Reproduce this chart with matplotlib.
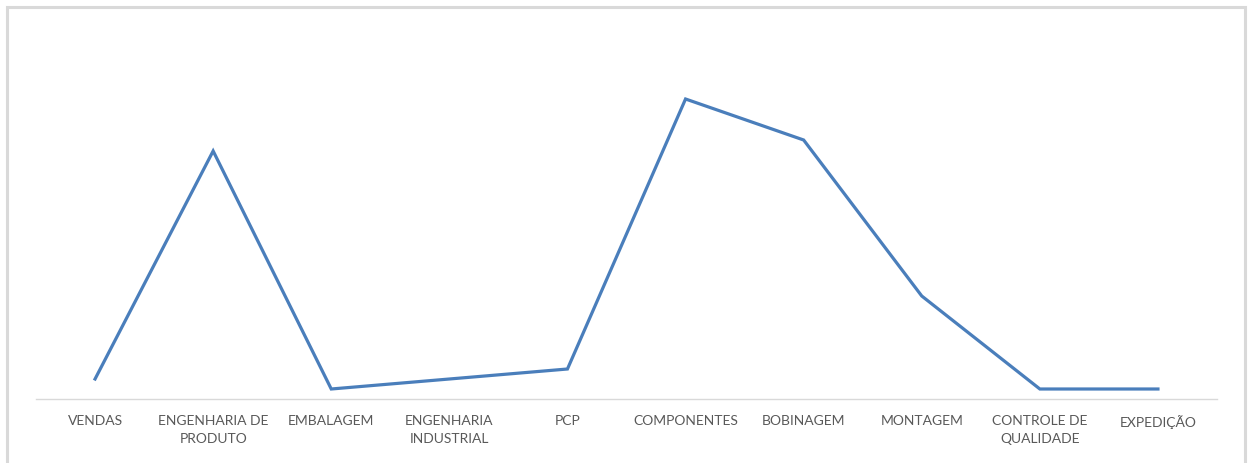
import matplotlib
matplotlib.use("Agg")
import matplotlib.pyplot as plt
from matplotlib.patches import Rectangle

categories = ["VENDAS", "ENGENHARIA DE\nPRODUTO", "EMBALAGEM", "ENGENHARIA\nINDUSTRIAL", "PCP",
              "COMPONENTES", "BOBINAGEM", "MONTAGEM", "CONTROLE DE\nQUALIDADE", "EXPEDIÇÃO"]
values = [2, 24.8, 1, 2, 3, 30, 25.9, 10.3, 1, 1]

W, H = 1251, 464
fig = plt.figure(figsize=(W / 100, H / 100), dpi=100)
fig.patch.set_facecolor("white")

# chart border (light gray frame, bottom edge cut off)
fig.add_artist(Rectangle((7 / W, -0.1), (1245 - 7) / W, 1.1 - 8 / H,
                         transform=fig.transFigure, fill=False,
                         edgecolor="#d9d9d9", linewidth=2.2, clip_on=False))

ax = fig.add_axes([36 / W, 1 - 400 / H, (1217 - 36) / W, 350 / H])
x = range(len(categories))
ax.plot(x, values, color="#4a7ebb", linewidth=2.3, solid_joinstyle="miter")

ax.set_xlim(-0.5, len(categories) - 0.5)
ax.set_ylim(0, 35)
ax.set_yticks([])
ax.set_xticks(list(x))
ax.set_xticklabels(categories, fontfamily="Lato", fontsize=10, color="#595959",
                   linespacing=1.6, va="top")
ax.tick_params(axis="x", length=0, pad=11)

for side in ["top", "right", "left"]:
    ax.spines[side].set_visible(False)
ax.spines["bottom"].set_color("#d9d9d9")
ax.spines["bottom"].set_linewidth(1.0)

fig.savefig("out.png", dpi=100)
